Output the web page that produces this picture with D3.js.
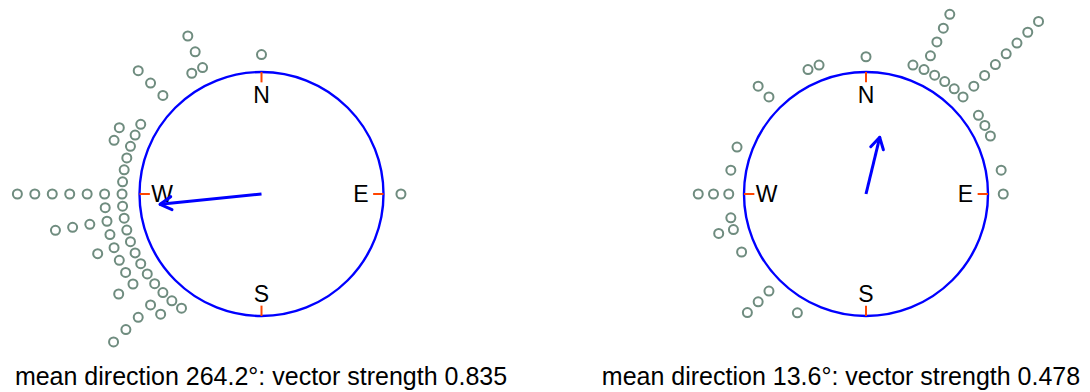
<!DOCTYPE html>
<html>
<head>
<meta charset="utf-8">
<script src="https://cdn.jsdelivr.net/npm/d3@7"></script>
<style>
  body { margin: 0; background: #fff; }
  text { font-family: "Liberation Sans", Arial, sans-serif; fill: #000; }
</style>
</head>
<body>
<div id="chart"></div>
<script>
var svgWidth = 1090;
var svgHeight = 392;

// directions in degrees, clockwise from north, and how many points are stacked there
var leftAngles = [0, 90, 215, 220, 225, 230, 235, 240, 245, 250, 255, 260, 265, 270, 275, 280, 285, 290, 295, 300, 315, 330, 335];
var leftCounts = [1, 1, 1, 2, 5, 1, 3, 2, 2, 3, 2, 5, 2, 7, 1, 1, 1, 2, 2, 1, 3, 1, 3];
var leftMean = 264.2;
var leftRho = 0.835;

var rightAngles = [0, 20, 25, 30, 35, 40, 45, 55, 60, 65, 80, 90, 210, 225, 245, 255, 260, 270, 280, 290, 315, 335, 340];
var rightCounts = [1, 1, 5, 1, 1, 1, 8, 1, 1, 1, 1, 1, 1, 3, 1, 2, 1, 3, 1, 1, 2, 1, 1];
var rightMean = 13.6;
var rightRho = 0.478;

var compassLabels = ["N", "E", "S", "W"];
var compassAngles = [0, 90, 180, 270];

var radius = 122;
var pointColor = "#6f8c7f";

var svg = d3.select("#chart")
  .append("svg")
  .attr("width", svgWidth)
  .attr("height", svgHeight);

// radius in units of the unit circle, angle in degrees
var rScale = d3.scaleLinear().domain([0, 1]).range([0, radius]);
var aScale = d3.scaleLinear().domain([0, 360]).range([0, 2 * Math.PI]);

function polar(deg, r) {
  return d3.pointRadial(aScale(deg), rScale(r));
}

function drawPanel(cx, cy, angles, counts, meanDir, rho, sep, textX) {
  var g = svg.append("g")
    .attr("transform", `translate(${cx}, ${cy})`);

  g.append("circle")
    .attr("r", rScale(1))
    .attr("fill", "none")
    .attr("stroke", "#0000ff")
    .attr("stroke-width", 2.4);

  // ticks at the four compass points
  g.selectAll(".tick")
    .data(compassAngles)
    .enter()
    .append("line")
    .attr("x1", d => polar(d, 1)[0])
    .attr("y1", d => polar(d, 1)[1])
    .attr("x2", d => polar(d, 0.915)[0])
    .attr("y2", d => polar(d, 0.915)[1])
    .attr("stroke", "#ff4500")
    .attr("stroke-width", 2);

  g.selectAll(".lab")
    .data(compassAngles)
    .enter()
    .append("text")
    .attr("x", d => polar(d, 0.815)[0])
    .attr("y", d => polar(d, 0.815)[1])
    .attr("dy", "0.36em")
    .attr("text-anchor", "middle")
    .style("font-size", "23px")
    .text((d, i) => compassLabels[i]);

  // stacked observations outside the circle
  var pts = [];
  angles.forEach((a, i) => {
    d3.range(counts[i]).forEach(k => pts.push({ angle: a, level: k }));
  });

  g.selectAll(".pt")
    .data(pts)
    .enter()
    .append("circle")
    .attr("cx", d => polar(d.angle, 1 + (d.level + 1) * sep)[0])
    .attr("cy", d => polar(d.angle, 1 + (d.level + 1) * sep)[1])
    .attr("r", 4.5)
    .attr("fill", "none")
    .attr("stroke", pointColor)
    .attr("stroke-width", 2);

  // mean vector arrow
  var tip = polar(meanDir, rho);
  g.append("line")
    .attr("x1", 0).attr("y1", 0)
    .attr("x2", tip[0]).attr("y2", tip[1])
    .attr("stroke", "#0000ff")
    .attr("stroke-width", 3);

  var headLen = 13;
  [-30, 30].forEach(off => {
    var back = d3.pointRadial(aScale(meanDir + 180 + off), headLen);
    g.append("line")
      .attr("x1", tip[0]).attr("y1", tip[1])
      .attr("x2", tip[0] + back[0]).attr("y2", tip[1] + back[1])
      .attr("stroke", "#0000ff")
      .attr("stroke-width", 3)
      .attr("stroke-linecap", "round");
  });

  svg.append("text")
    .attr("x", textX)
    .attr("y", 385)
    .attr("text-anchor", "middle")
    .style("font-size", "25px")
    .text(`mean direction ${meanDir}°: vector strength ${rho}`);
}

drawPanel(261.5, 194, leftAngles, leftCounts, leftMean, leftRho, 0.143, 261);
drawPanel(866, 194, rightAngles, rightCounts, rightMean, rightRho, 0.125, 841);
</script>
</body>
</html>
